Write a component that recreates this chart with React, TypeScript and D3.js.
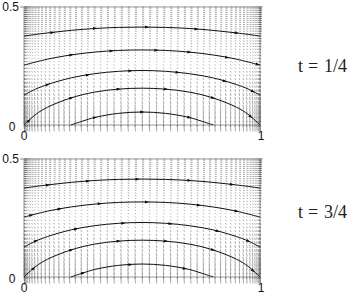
import React from "react";
import * as d3 from "d3";

const X_TICKS = [0, 1];
const PANEL_T = ["1/4", "3/4"];

// streamlines, same in both panels
const CURVE_X = [0, 0.05, 0.1, 0.2, 0.3, 0.4, 0.5, 0.6, 0.7, 0.8, 0.9, 0.95, 1];
const CURVE_1 = [0.377, 0.384, 0.39, 0.401, 0.409, 0.4135, 0.415, 0.4135, 0.409, 0.401, 0.39, 0.384, 0.377];
const CURVE_2 = [0.254, 0.267, 0.279, 0.297, 0.309, 0.316, 0.318, 0.316, 0.309, 0.297, 0.279, 0.267, 0.254];
const CURVE_3 = [0.127, 0.1525, 0.1715, 0.2, 0.2175, 0.2275, 0.231, 0.2275, 0.2175, 0.2, 0.1715, 0.1525, 0.127];
const CURVE_4 = [0, 0.045, 0.0755, 0.115, 0.1395, 0.152, 0.156, 0.152, 0.1395, 0.115, 0.0755, 0.045, 0];
const CURVE_5_X = [0.198, 0.25, 0.3, 0.4, 0.5, 0.6, 0.7, 0.75, 0.802];
const CURVE_5 = [0, 0.017, 0.032, 0.0493, 0.055, 0.0493, 0.032, 0.017, 0];

// marker positions (x) along each curve, per panel
const MARKS_TOP = [
  [0.12, 0.3, 0.52, 0.73, 0.9],
  [0.2, 0.37, 0.56, 0.7, 0.86, 0.99],
  [0.1, 0.27, 0.45, 0.65, 0.85, 0.97],
  [0.02, 0.2, 0.4, 0.6, 0.8, 0.96],
  [0.3, 0.5, 0.7],
];
const MARKS_BOTTOM = [
  [0.1, 0.27, 0.48, 0.7, 0.88],
  [0.03, 0.15, 0.32, 0.52, 0.74, 0.9],
  [0.05, 0.22, 0.42, 0.62, 0.82, 0.95],
  [0.04, 0.2, 0.4, 0.6, 0.8, 0.97],
  [0.25, 0.45, 0.68],
];

// vector field magnitude per row (px): horizontal and vertical parts
const FIELD_Y = [0, 0.03, 0.06, 0.1, 0.15, 0.2, 0.25, 0.3, 0.35, 0.4, 0.45, 0.5];
const FIELD_U = [0, 0.2, 0.3, 0.4, 0.5, 0.7, 0.9, 1.2, 1.5, 1.8, 2.0, 2.2];
const FIELD_V = [6.5, 5.5, 4.6, 3.6, 2.6, 1.8, 1.2, 0.9, 0.6, 0.4, 0.2, 0];

const N_COLS = 52;
const N_ROWS = 40;

const W = 354;
const H = 297;
const X0 = 24;
const X1 = 260;
const PANELS_Y = [
  [7, 125],
  [159, 277],
];
const LABEL_Y = [72, 218];

function Panel({ y0, y1, t, labelY, marks }: { y0: number; y1: number; t: string; labelY: number; marks: number[][] }) {
  const x = d3.scaleLinear().domain([0, 1]).range([X0, X1]);
  const y = d3.scaleLinear().domain([0, 0.5]).range([y1, y0]);
  const kx = X1 - X0;
  const uAt = d3.scaleLinear().domain(FIELD_Y).range(FIELD_U);
  const vAt = d3.scaleLinear().domain(FIELD_Y).range(FIELD_V);
  const cols = d3.range(N_COLS + 1).map((j) => (1 - Math.cos((Math.PI * j) / N_COLS)) / 2);
  const rows = d3.range(N_ROWS + 1).map((i) => {
    const s = i / N_ROWS;
    return 0.5 * (s + 0.12 * Math.sin(Math.PI * s));
  });

  const segs: string[] = [];
  rows.forEach((ry) => {
    cols.forEach((cx) => {
      const px = x(cx);
      const py = y(ry);
      const u = uAt(ry);
      const v = vAt(ry);
      segs.push(`M${px.toFixed(2)},${py.toFixed(2)}l${Math.max(u, 0.6).toFixed(2)},${v.toFixed(2)}`);
    });
  });

  const curves: [number[], number[]][] = [
    [CURVE_X, CURVE_1],
    [CURVE_X, CURVE_2],
    [CURVE_X, CURVE_3],
    [CURVE_X, CURVE_4],
    [CURVE_5_X, CURVE_5],
  ];
  const line = d3
    .line<[number, number]>()
    .x((d) => x(d[0]))
    .y((d) => y(d[1]))
    .curve(d3.curveCatmullRom);

  return (
    <g>
      <g stroke="#555" strokeWidth={0.5} fill="none">
        <path d={segs.join("")} />
      </g>
      <rect x={X0} y={y0} width={X1 - X0} height={y1 - y0} fill="none" stroke="#555" strokeWidth={0.6} />
      <line x1={X1} x2={X1 + 3} y1={y0} y2={y0} stroke="#999" strokeWidth={0.6} />
      {curves.map(([cx, cy], k) => {
        const pts = cx.map((v, i) => [v, cy[i]] as [number, number]);
        const interp = d3.scaleLinear().domain(cx).range(cy);
        return (
          <g key={k}>
            <path d={line(pts) || ""} fill="none" stroke="#111" strokeWidth={1} />
            {marks[k].map((mx, m) => {
              const my = interp(mx);
              const dy = (interp(mx + 0.01) - interp(mx - 0.01)) / 0.02;
              const ang = (Math.atan2(-dy * (y(0) - y(0.5)) * 2, kx) * 180) / Math.PI;
              return (
                <path
                  key={m}
                  transform={`translate(${x(mx)},${y(my)}) rotate(${ang})`}
                  d="M2.4,0L-1.8,-1.5L-1.8,1.5Z"
                  fill="#111"
                />
              );
            })}
          </g>
        );
      })}
      <g fontFamily="Liberation Sans, Arial, sans-serif" fontSize={12} fill="#111">
        <text x={19} y={y(0.5) + 4} textAnchor="end">0.5</text>
        <line x1={20} x2={X0} y1={y(0.5)} y2={y(0.5)} stroke="#444" strokeWidth={0.6} />
        <text x={12} y={y(0) + 6} textAnchor="middle">0</text>
        {X_TICKS.map((tk) => (
          <text key={tk} x={x(tk) + (tk === 1 ? 1 : 0)} y={y(0) + 15} textAnchor="middle">{tk}</text>
        ))}
      </g>
      <g fontFamily="Liberation Serif, Times New Roman, serif" fontSize={18} fill="#222">
        <text x={298} y={labelY}>t</text>
        <text x={308} y={labelY}>=</text>
        <text x={324} y={labelY}>{t}</text>
      </g>
    </g>
  );
}

export default function App() {
  return (
    <svg
      width={W}
      height={H}
      viewBox={`0 0 ${W} ${H}`}
      style={{ position: "absolute", left: 0, top: 0, display: "block", background: "#fff" }}
    >
      {PANELS_Y.map(([a, b], i) => (
        <Panel key={i} y0={a} y1={b} t={PANEL_T[i]} labelY={LABEL_Y[i]} marks={i === 0 ? MARKS_TOP : MARKS_BOTTOM} />
      ))}
    </svg>
  );
}
